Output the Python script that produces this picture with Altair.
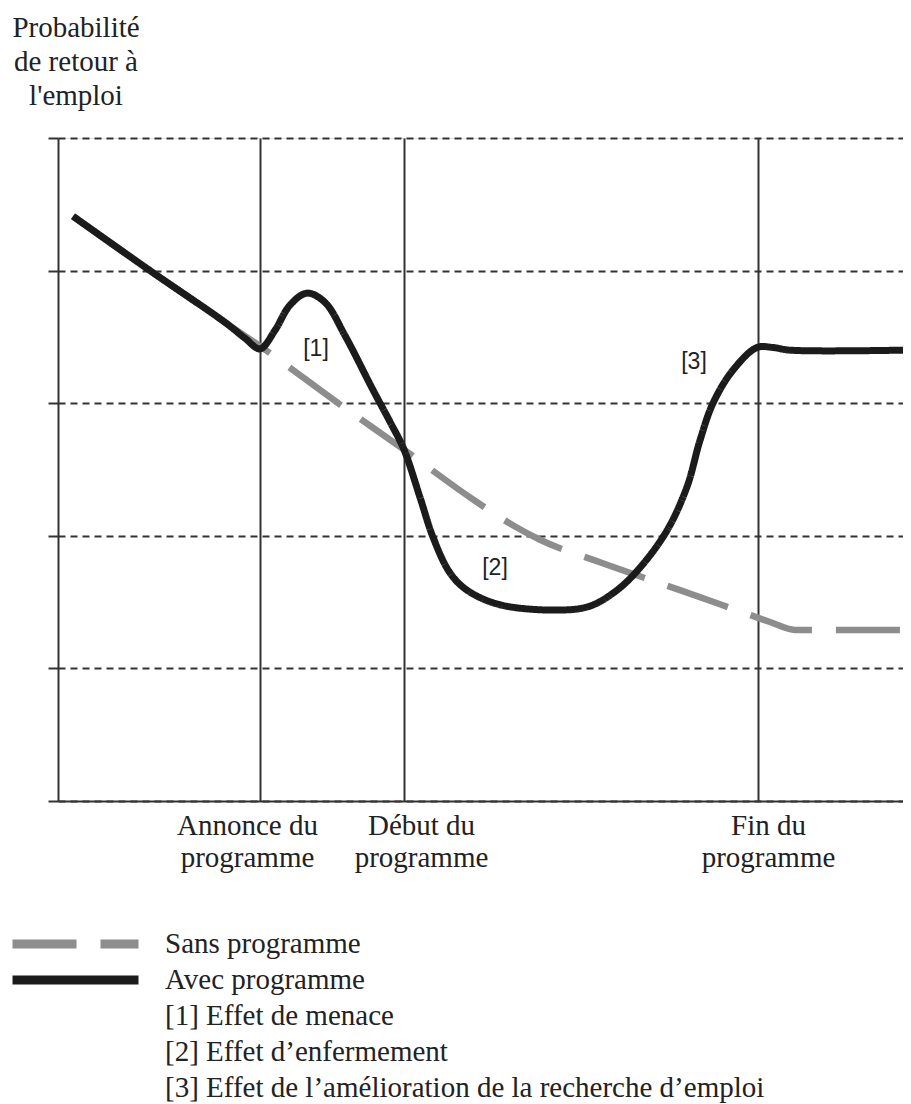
import altair as alt
import pandas as pd

# ---------------- data ----------------
# time axis (arbitrary units) and probability (arbitrary units, gridlines at 1..5)
t_avec = [1.5, 9.2, 16.7, 18.7, 20.2, 21.7, 23.2, 24.9, 26.7, 28.7,
          31.5, 33.2, 34.6, 36.2, 37.5, 39.2, 40.9, 44.2, 50.2, 53.2,
          55.9, 58.2, 60.9, 62.9, 64.2, 65.5, 67.5, 69.9, 71.5, 73.2, 84.5]
p_avec = [4.41, 4.00, 3.61, 3.49, 3.41, 3.55, 3.74, 3.83, 3.76, 3.51,
          3.10, 2.86, 2.65, 2.29, 1.99, 1.72, 1.59, 1.48, 1.44, 1.47,
          1.59, 1.76, 2.04, 2.37, 2.72, 3.00, 3.25, 3.42, 3.42, 3.40, 3.40]

t_sans = [1.5, 9.2, 16.7, 20.2, 28.2, 34.6, 41.2, 45.7, 48.2, 54.2,
          62.2, 68.2, 71.2, 73.7, 76.2, 84.5]
p_sans = [4.41, 4.00, 3.61, 3.43, 2.99, 2.65, 2.29, 2.07, 1.97, 1.80,
          1.59, 1.43, 1.35, 1.29, 1.29, 1.29]

event_t = [20.2, 34.6, 70.0]
event_labels = ["Annonce du|programme", "Début du|programme", "Fin du|programme"]
grid_levels = [0, 1, 2, 3, 4, 5]

note_t = [25.8, 43.7, 63.6]
note_p = [3.41, 1.76, 3.31]
note_text = ["[1]", "[2]", "[3]"]

series_names = ["Sans programme", "Avec programme"]
legend_notes = ["[1] Effet de menace",
                "[2] Effet d\u2019enfermement",
                "[3] Effet de l\u2019am\u00e9lioration de la recherche d\u2019emploi"]
title_lines = ["Probabilit\u00e9", "de retour \u00e0", "l'emploi"]

# ---------------- chart ----------------
W, H = 845, 663
SERIF = "Liberation Serif"
TXT = "#222222"
LINE = "#333333"
LABEL_SHIFT = [-13, 17, 10]   # horizontal shift (px) of each event label

df_sans = pd.DataFrame({"t": t_sans, "p": p_sans, "serie": series_names[0]})
df_avec = pd.DataFrame({"t": t_avec, "p": p_avec, "serie": series_names[1]})
df_notes = pd.DataFrame({"t": note_t, "p": note_p, "txt": note_text})

# multi-line event labels on the x axis
expr = "''"
for t, lab in reversed(list(zip(event_t, event_labels))):
    arr = "[" + ",".join("'" + s + "'" for s in lab.split("|")) + "]"
    expr = f"abs(datum.value - {t}) < 0.5 ? {arr} : {expr}"

label_offset = {
    "condition": [{"test": f"abs(datum.value - {t}) < 0.5", "value": s}
                  for t, s in zip(event_t[:-1], LABEL_SHIFT[:-1])],
    "value": LABEL_SHIFT[-1],
}

xs = alt.Scale(domain=[0, 84.5], nice=False, zero=False)
ys = alt.Scale(domain=[0, 5], nice=False, zero=False)

x_axis = alt.Axis(values=event_t, title=None, ticks=False, labelExpr=expr,
                  labelFont=SERIF, labelFontSize=29, labelColor=TXT,
                  labelLineHeight=32, labelPadding=10, labelFlush=False,
                  labelOverlap=False, labelOffset=label_offset,
                  domain=True, domainColor=LINE, domainWidth=2,
                  grid=True, gridColor=LINE, gridWidth=2, gridOpacity=1)
y_axis = alt.Axis(values=grid_levels, title=None, labels=False,
                  ticks=True, tickSize=10, tickColor=LINE, tickWidth=2,
                  domain=True, domainColor=LINE, domainWidth=2,
                  grid=True, gridColor=LINE, gridWidth=2, gridDash=[7, 5],
                  gridOpacity=1)

X = alt.X("t:Q", scale=xs, axis=x_axis)
Y = alt.Y("p:Q", scale=ys, axis=y_axis)

legend_domain = series_names + legend_notes
color_scale = alt.Scale(domain=legend_domain,
                        range=["#8d8d8d", "#1b1b1b", "transparent", "transparent", "transparent"])
dash_scale = alt.Scale(domain=legend_domain,
                       range=[[64, 24], [1, 0], [1, 0], [1, 0], [1, 0]])
leg = alt.Legend(title=None, orient="none", legendX=-50, legendY=788,
                 direction="vertical", symbolType="stroke", symbolSize=15876,
                 symbolStrokeWidth=9, labelFont=SERIF, labelFontSize=29,
                 labelColor=TXT, labelOffset=22, labelLimit=900, padding=0,
                 rowPadding=0, clipHeight=36)
C = alt.Color("serie:N", scale=color_scale, legend=leg)
D = alt.StrokeDash("serie:N", scale=dash_scale, legend=leg)

sans = alt.Chart(df_sans).mark_line(interpolate="monotone", strokeWidth=6.5).encode(
    x=X, y=Y, color=C, strokeDash=D)
avec = alt.Chart(df_avec).mark_line(interpolate="catmull-rom", strokeWidth=7).encode(
    x=X, y=Y, color=C, strokeDash=D)
notes = alt.Chart(df_notes).mark_text(font="Liberation Sans", fontSize=23,
                                      color=TXT, align="center",
                                      baseline="middle").encode(
    x=X, y=Y, text="txt:N")

chart = alt.layer(sans, avec, notes).properties(
    width=W, height=H,
    title=alt.TitleParams(text=title_lines, anchor="start", align="center",
                          dx=18, font=SERIF, fontSize=29, fontWeight="normal",
                          color=TXT, lineHeight=34, offset=26, frame="group"),
    autosize=alt.AutoSizeParams(type="none"),
    padding={"left": 50, "top": 130, "right": 0, "bottom": 305},
).configure_view(stroke=None).configure(background="white")

chart.save("out.html", embed_options={"renderer": "svg", "actions": False})
